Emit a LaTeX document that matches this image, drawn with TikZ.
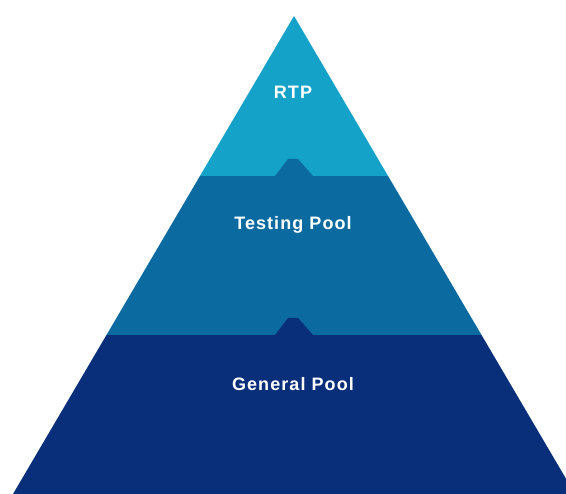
\documentclass[tikz,border=0pt]{standalone}
\usepackage{fontspec}
\setmainfont{Liberation Sans}
\definecolor{rtpblue}{RGB}{20,162,200}
\definecolor{testblue}{RGB}{11,107,160}
\definecolor{generalblue}{RGB}{9,46,122}
\tikzset{poollabel/.style={text=white,anchor=base,inner sep=0pt,
  font=\fontsize{18}{21}\selectfont\bfseries\addfontfeature{LetterSpace=6}}}
\begin{document}
\begin{tikzpicture}[x=1pt,y=1pt]
\useasboundingbox (0,0) rectangle (566,494);
\coordinate (apex) at (294,478);
\coordinate (left) at (13,0);
\coordinate (right) at (575,0);

\begin{scope}
\clip (left) -- (apex) -- (right) -- cycle;
\fill[rtpblue] (0,318) rectangle (566,494);
\fill[testblue] (0,159) rectangle (566,318);
\fill[testblue] (275,318) -- ++(13,17) -- ++(10,0) -- ++(15,-17) -- cycle;
\fill[generalblue] (0,0) rectangle (566,159);
\fill[generalblue] (275,159) -- ++(13,17) -- ++(10,0) -- ++(15,-17) -- cycle;
\end{scope}

\node[poollabel] (rtp) at (293,395) {RTP};
\node[poollabel] (testing) at (293,264) {Testing Pool};
\node[poollabel] (general) at (293,103) {General Pool};
\end{tikzpicture}
\end{document}
